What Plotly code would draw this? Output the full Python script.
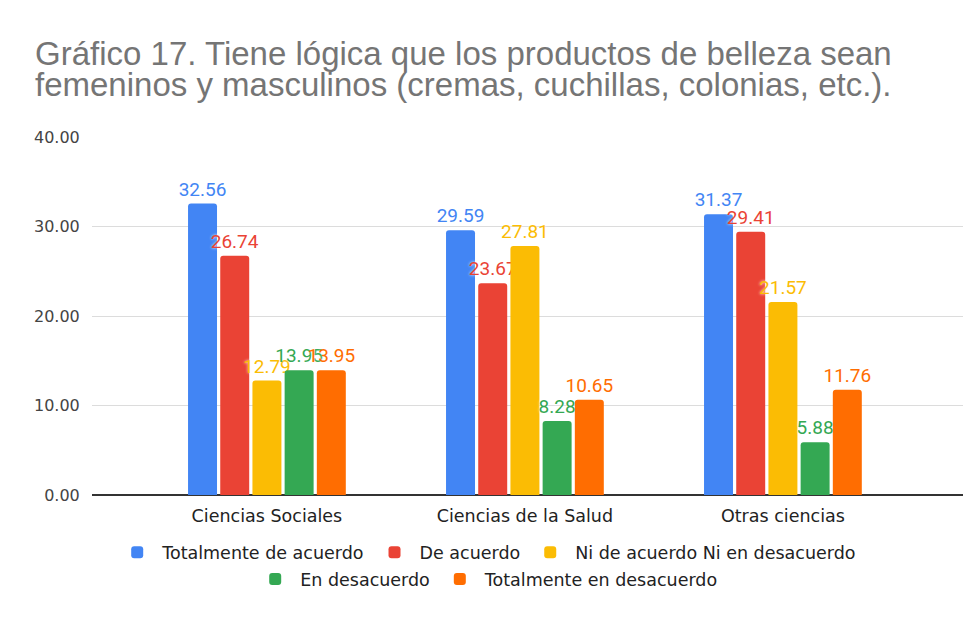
import plotly.graph_objects as go

categories = ['Ciencias Sociales', 'Ciencias de la Salud', 'Otras ciencias']
series_names = ['Totalmente de acuerdo', 'De acuerdo', 'Ni de acuerdo Ni en desacuerdo',
                'En desacuerdo', 'Totalmente en desacuerdo']
totalmente_acuerdo = [32.56, 29.59, 31.37]
de_acuerdo = [26.74, 23.67, 29.41]
ni_ni = [12.79, 27.81, 21.57]
en_desacuerdo = [13.95, 8.28, 5.88]
totalmente_desacuerdo = [13.95, 10.65, 11.76]
title_lines = ['Gráfico 17. Tiene lógica que los productos de belleza sean',
               'femeninos y masculinos (cremas, cuchillas, colonias, etc.).']

values = [totalmente_acuerdo, de_acuerdo, ni_ni, en_desacuerdo, totalmente_desacuerdo]
colors = ['#4285F4', '#EA4335', '#FBBC04', '#34A853', '#FF6D01']
legends = ['legend', 'legend', 'legend', 'legend2', 'legend2']

fig = go.Figure()
for name, vals, color, lg in zip(series_names, values, colors, legends):
    fig.add_trace(go.Bar(
        x=categories, y=vals, name=name, legend=lg,
        marker=dict(color=color, cornerradius=3, line=dict(width=0)),
        text=[f'{v:.2f}' for v in vals], textposition='outside', cliponaxis=False,
        constraintext='none',
        textfont=dict(color=color, size=19, family='Roboto', shadow='0px 0px 3px white'),
    ))

# title as two annotations so the line spacing can be kept tight
for txt, ypos in zip(title_lines, [1.232, 1.147]):
    fig.add_annotation(text=txt, xref='paper', yref='paper', x=-0.068, y=ypos,
                       xanchor='left', yanchor='middle', showarrow=False,
                       font=dict(family='Liberation Sans', size=33, color='#757575'))

# page body has an 8px margin, so the figure is drawn 8px smaller
fig.update_layout(
    width=971, height=609,
    margin=dict(l=84, r=16, t=129, b=122, autoexpand=False),
    plot_bgcolor='white', paper_bgcolor='white',
    font=dict(family='DejaVu Sans', size=17, color='#222222'),
    barmode='group', bargap=0.376, bargroupgap=0.1,
    legend=dict(orientation='h', xref='container', x=0.493, xanchor='center', y=-0.16, yanchor='middle',
                bgcolor='rgba(0,0,0,0)',
                font=dict(size=17.5, color='#222222'), itemsizing='constant', itemwidth=40),
    legend2=dict(orientation='h', xref='container', x=0.493, xanchor='center', y=-0.235, yanchor='middle',
                 bgcolor='rgba(0,0,0,0)',
                 font=dict(size=17.5, color='#222222'), itemsizing='constant', itemwidth=40),
    showlegend=True,
)
fig.update_xaxes(range=[-0.678, 2.698], showgrid=False, ticks='', ticklabelstandoff=8,
                 tickfont=dict(size=17.5, color='#222222'))
fig.update_yaxes(range=[0, 40], dtick=10, tickformat='.2f', gridcolor='#dcdcdc', gridwidth=1,
                 zeroline=True, zerolinecolor='#333333', zerolinewidth=1.5,
                 ticks='outside', ticklen=8, tickcolor='white',
                 tickfont=dict(size=16, color='#444444'))

fig.write_html('out.html')
